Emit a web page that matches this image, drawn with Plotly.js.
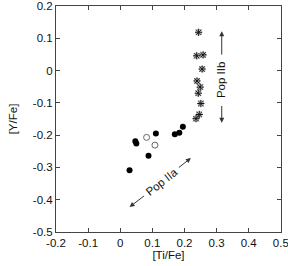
<!DOCTYPE html>
<html><head><meta charset="utf-8">
<script src="https://cdn.plot.ly/plotly-3.0.1.min.js"></script>
<style>html,body{margin:0;padding:0;background:#fff}</style>
</head><body><div id="c" style="width:288px;height:266px"></div>
<script>
const filledX = [0.029, 0.047, 0.050, 0.088, 0.111, 0.170, 0.184, 0.195];
const filledY = [-0.309, -0.219, -0.226, -0.264, -0.195, -0.197, -0.193, -0.174];
const openX = [0.082, 0.108];
const openY = [-0.207, -0.231];
const starX = [0.244, 0.238, 0.258, 0.255, 0.239, 0.249, 0.243, 0.251, 0.246, 0.236];
const starY = [0.119, 0.046, 0.049, 0.005, -0.032, -0.051, -0.070, -0.102, -0.136, -0.149];
const xTicks = [-0.2, -0.1, 0, 0.1, 0.2, 0.3, 0.4, 0.5];
const yTicks = [0.2, 0.1, 0, -0.1, -0.2, -0.3, -0.4, -0.5];

const data = [
  {x: filledX, y: filledY, mode: 'markers', type: 'scatter',
   marker: {symbol: 'circle', size: 6, color: '#000'}},
  {x: openX, y: openY, mode: 'markers', type: 'scatter',
   marker: {symbol: 'circle-open', size: 6, color: '#666', line: {width: 1, color: '#666'}}},
  {x: starX, y: starY, mode: 'markers', type: 'scatter',
   marker: {symbol: 'square-open', size: 5, color: '#aaa', line: {width: 1, color: '#aaa'}}},
  {x: starX, y: starY, mode: 'markers', type: 'scatter',
   marker: {symbol: 'asterisk-open', size: 6, color: '#111', line: {width: 1, color: '#111'}}}
];
const fnt = {family: 'Liberation Sans, Arial, sans-serif', size: 11.5, color: '#111'};
const ax = {
  showgrid: false, zeroline: false, showline: true, mirror: 'ticks',
  linecolor: '#444', linewidth: 1, ticks: 'inside', ticklen: 4, tickcolor: '#444',
  tickfont: fnt, ticklabeloverflow: 'allow'
};
const arrow = (x, y, ax0, ay0) => ({x: x, y: y, ax: ax0, ay: ay0, xref: 'x', yref: 'y',
  axref: 'x', ayref: 'y', text: '', showarrow: true, arrowhead: 2, arrowsize: 1,
  arrowwidth: 1, arrowcolor: '#333'});
const layout = {
  width: 288, height: 266,
  margin: {l: 56, r: 7, t: 6, b: 34},
  paper_bgcolor: '#fff', plot_bgcolor: '#fff',
  showlegend: false,
  xaxis: Object.assign({}, ax, {range: [-0.2, 0.5005], tickvals: xTicks,
    ticktext: xTicks.map(v => v === 0 ? '0' : v.toFixed(1)),
    title: {text: '[Ti/Fe]', font: fnt, standoff: 3}}),
  yaxis: Object.assign({}, ax, {range: [-0.5005, 0.2005], tickvals: yTicks,
    ticktext: yTicks.map(v => v === 0 ? '0' : v.toFixed(1)),
    title: {text: '[Y/Fe]', font: fnt, standoff: 12}}),
  annotations: [
    arrow(0.316, 0.122, 0.316, 0.045),
    arrow(0.316, -0.162, 0.316, -0.105),
    {x: 0.316, y: -0.03, xref: 'x', yref: 'y', text: 'Pop IIb', showarrow: false,
     textangle: -90, font: fnt},
    arrow(0.029, -0.423, 0.079, -0.385),
    arrow(0.220, -0.271, 0.178, -0.304),
    {x: 0.128, y: -0.344, xref: 'x', yref: 'y', text: 'Pop IIa', showarrow: false,
     textangle: -38, font: fnt}
  ]
};
Plotly.newPlot('c', data, layout, {displayModeBar: false, staticPlot: true});
</script></body></html>
